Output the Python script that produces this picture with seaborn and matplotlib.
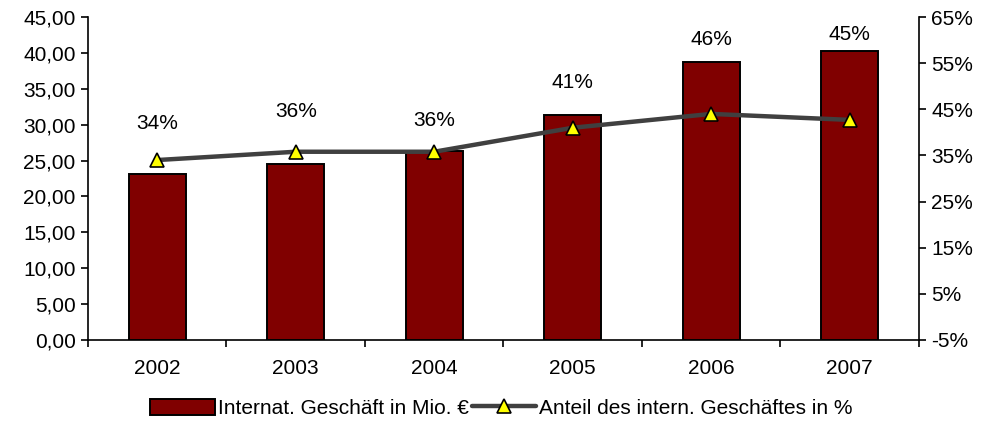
import numpy as np
import pandas as pd
import matplotlib
matplotlib.use("Agg")
import matplotlib.pyplot as plt
from matplotlib.ticker import FuncFormatter, MultipleLocator, FixedLocator
import seaborn as sns

# Werte
years = ["2002", "2003", "2004", "2005", "2006", "2007"]
intl_business = [23.1, 24.5, 26.4, 31.4, 38.7, 40.3]      # Mio. €
intl_share = [34.0, 35.8, 35.8, 41.0, 44.0, 42.7]          # %
share_labels = ["34%", "36%", "36%", "41%", "46%", "45%"]

# Höhe der Beschriftungen (linke Achse), wie im Original manuell gesetzt
label_y = [30.1, 31.8, 30.6, 35.9, 41.8, 42.6]

FS = 15

sns.set_theme(style="white")
plt.rcParams['font.family'] = ['Liberation Sans', 'DejaVu Sans']
plt.rcParams['text.color'] = 'black'
plt.rcParams['xtick.color'] = 'black'
plt.rcParams['ytick.color'] = 'black'
plt.rcParams['font.size'] = FS

df = pd.DataFrame({"year": years, "value": intl_business, "share": intl_share})

fig = plt.figure(figsize=(9.91, 4.21), dpi=100)
ax = fig.add_axes([0.0888, 0.1924, 0.8385, 0.7672])

sns.barplot(data=df, x="year", y="value", color="#800000", saturation=1,
            edgecolor="black", linewidth=1.4, width=0.41, ax=ax,
            label="Internat. Geschäft in Mio. €")

ax2 = ax.twinx()
sns.lineplot(x=np.arange(len(years)), y=df["share"], ax=ax2, color="#404040",
             linewidth=3.2, marker="^", markersize=10, markerfacecolor="#ffff00",
             markeredgecolor="black", markeredgewidth=1.2,
             label="Anteil des intern. Geschäftes in %")

for i, txt in enumerate(share_labels):
    ax.text(i, label_y[i], txt, ha="center", va="center", fontsize=FS, color="black")

# Achsen
ax.set_xlim(-0.5, len(years) - 0.5)
ax.set_ylim(0, 45)
ax.yaxis.set_major_locator(MultipleLocator(5))
ax.yaxis.set_major_formatter(FuncFormatter(lambda v, p: f"{v:.2f}".replace(".", ",")))
ax2.set_ylim(-5, 65)
ax2.yaxis.set_major_locator(FixedLocator(np.arange(-5, 66, 10)))
ax2.yaxis.set_major_formatter(FuncFormatter(lambda v, p: f"{v:.0f}%"))
ax.set_xlabel("")
ax.set_ylabel("")
ax2.set_ylabel("")

ax.xaxis.set_minor_locator(FixedLocator(np.arange(len(years) + 1) - 0.5))
ax.tick_params(axis="x", which="major", length=0, pad=14, labelsize=FS)
ax.tick_params(axis="x", which="minor", length=5, width=1.2, color="black", direction="out", bottom=True)
ax.tick_params(axis="y", length=5, width=1.2, color="black", direction="out", left=True, labelsize=FS, pad=4)
ax2.tick_params(axis="y", length=5, width=1.2, color="black", direction="out", right=True, labelsize=FS, pad=4)

for a in (ax, ax2):
    a.spines["top"].set_visible(False)
    a.grid(False)
ax.spines["right"].set_visible(False)
ax2.spines["left"].set_visible(False)
ax2.spines["bottom"].set_visible(False)
for a, sides in ((ax, ("left", "bottom")), (ax2, ("right",))):
    for s in sides:
        a.spines[s].set_color("black")
        a.spines[s].set_linewidth(1.2)

# Legende unten
h1, l1 = ax.get_legend_handles_labels()
h2, l2 = ax2.get_legend_handles_labels()
for a in (ax, ax2):
    if a.get_legend() is not None:
        a.get_legend().remove()
fig.legend(h1 + h2, l1 + l2, loc="center", bbox_to_anchor=(0.506, 0.03), ncol=2,
           frameon=False, fontsize=FS, handlelength=3.1, handleheight=0.85,
           handletextpad=0.15, columnspacing=0.15)

fig.savefig("out.png", dpi=100)
